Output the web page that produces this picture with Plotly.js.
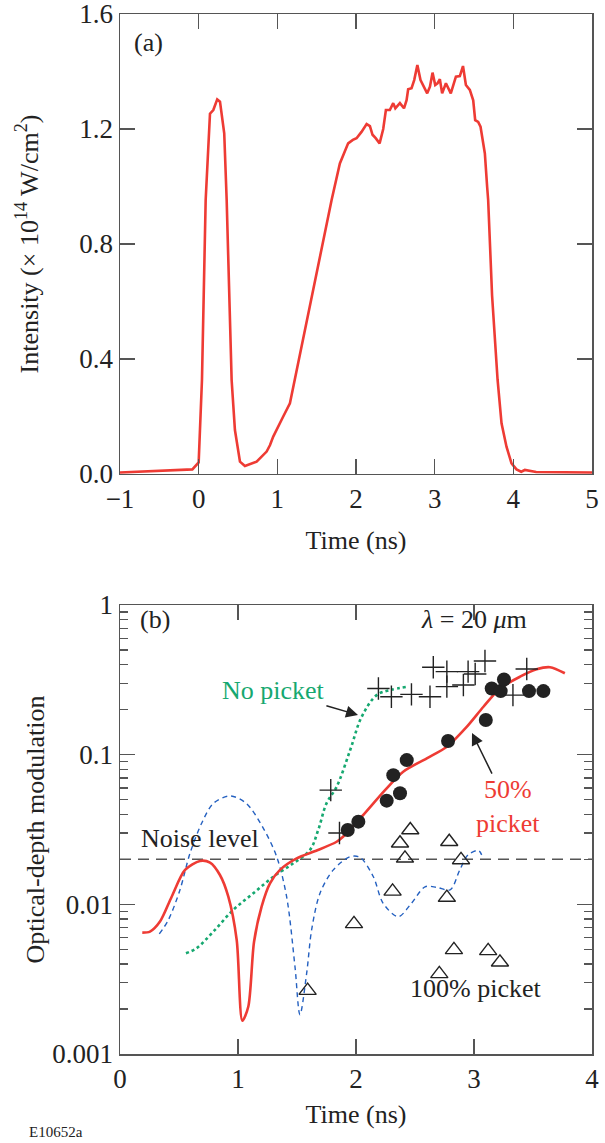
<!DOCTYPE html>
<html>
<head>
<meta charset="utf-8">
<script src="https://cdn.plot.ly/plotly-3.0.1.min.js"></script>
<style>
  html, body { margin: 0; padding: 0; background: #fff; }
  #chart { width: 605px; height: 1143px; }
</style>
</head>
<body>
<div id="chart"></div>
<script>
// ---------- Panel (a): laser pulse intensity ----------
var timeA = [-1, -0.5, -0.08, 0, 0.042, 0.089, 0.144, 0.186, 0.236, 0.271, 0.325, 0.356, 0.419, 0.461, 0.525, 0.588, 0.737, 0.864, 0.906, 0.948, 0.97, 1.075, 1.16, 1.22, 1.45, 1.69, 1.795, 1.90, 1.96, 2.007, 2.07, 2.135, 2.177, 2.21, 2.25, 2.30, 2.346, 2.38, 2.43, 2.473, 2.50, 2.558, 2.61, 2.643, 2.663, 2.706, 2.74, 2.78, 2.82, 2.863, 2.905, 2.94, 2.973, 3.007, 3.036, 3.066, 3.095, 3.143, 3.175, 3.205, 3.27, 3.32, 3.36, 3.397, 3.447, 3.49, 3.515, 3.553, 3.583, 3.638, 3.667, 3.68, 3.73, 3.80, 3.85, 3.913, 3.977, 4.04, 4.10, 4.146, 4.29, 5];
var intensityA = [0.005, 0.010, 0.016, 0.04, 0.327, 0.953, 1.253, 1.266, 1.303, 1.295, 1.185, 0.953, 0.327, 0.153, 0.043, 0.028, 0.043, 0.078, 0.10, 0.13, 0.143, 0.2, 0.246, 0.327, 0.64, 0.953, 1.08, 1.15, 1.162, 1.168, 1.19, 1.217, 1.21, 1.18, 1.168, 1.15, 1.20, 1.266, 1.266, 1.29, 1.272, 1.29, 1.272, 1.30, 1.338, 1.342, 1.37, 1.423, 1.37, 1.347, 1.324, 1.347, 1.396, 1.353, 1.359, 1.373, 1.324, 1.359, 1.342, 1.324, 1.382, 1.384, 1.419, 1.353, 1.336, 1.30, 1.231, 1.225, 1.208, 1.115, 0.999, 0.953, 0.62, 0.327, 0.176, 0.095, 0.037, 0.016, 0.008, 0.014, 0.007, 0.005];
var yTicksA = [0, 0.4, 0.8, 1.2, 1.6];
var xTicksA = [-1, 0, 1, 2, 3, 4, 5];

// ---------- Panel (b): optical-depth modulation ----------
// 50% picket (red solid curve)
var time50 = [0.189, 0.254, 0.339, 0.438, 0.551, 0.678, 0.763, 0.847, 0.918, 0.989, 1.037, 1.087, 1.136, 1.20, 1.271, 1.356, 1.497, 1.667, 1.836, 1.89, 2.048, 2.246, 2.40, 2.60, 2.77, 2.94, 3.08, 3.22, 3.39, 3.53, 3.644, 3.77];
var mod50 = [0.00647, 0.00657, 0.00767, 0.01125, 0.01698, 0.0195, 0.019, 0.0157, 0.01125, 0.00578, 0.00167, 0.00207, 0.00563, 0.00966, 0.01383, 0.017, 0.0203, 0.0229, 0.0262, 0.0283, 0.0385, 0.058, 0.077, 0.0946, 0.113, 0.154, 0.209, 0.277, 0.332, 0.372, 0.384, 0.35];
// No picket (green dotted curve)
var timeNo = [0.559, 0.65, 0.791, 0.96, 1.13, 1.30, 1.469, 1.61, 1.68, 1.75, 1.836, 1.95, 2.048, 2.175, 2.288, 2.443];
var modNo = [0.00471, 0.0051, 0.00657, 0.00918, 0.01186, 0.0153, 0.0188, 0.0231, 0.0314, 0.0473, 0.061, 0.107, 0.179, 0.25, 0.27, 0.285];
// 100% picket (blue dashed curve)
var time100 = [0.333, 0.41, 0.508, 0.593, 0.692, 0.791, 0.932, 1.07, 1.215, 1.328, 1.412, 1.483, 1.525, 1.582, 1.624, 1.695, 1.808, 1.95, 2.034, 2.147, 2.23, 2.358, 2.47, 2.585, 2.684, 2.797, 2.88, 2.95, 3.037, 3.065];
var mod100 = [0.00634, 0.00787, 0.01248, 0.0219, 0.0348, 0.0473, 0.053, 0.0473, 0.0322, 0.0208, 0.01125, 0.00383, 0.00183, 0.00347, 0.00675, 0.01186, 0.017, 0.0208, 0.0206, 0.0153, 0.01016, 0.00828, 0.01016, 0.0131, 0.013, 0.01248, 0.017, 0.0214, 0.0229, 0.0214];
// Measured points
var plusTime = [1.786, 1.86, 2.19, 2.30, 2.47, 2.627, 2.655, 2.77, 2.77, 2.91, 2.95, 3.01, 3.093, 3.33, 3.447];
var plusMod = [0.058, 0.030, 0.277, 0.244, 0.253, 0.244, 0.384, 0.359, 0.285, 0.292, 0.359, 0.346, 0.423, 0.25, 0.374];
var dotTime = [1.93, 2.02, 2.26, 2.316, 2.373, 2.43, 2.78, 3.10, 3.15, 3.226, 3.254, 3.466, 3.588];
var dotMod = [0.0314, 0.0357, 0.0493, 0.073, 0.0552, 0.092, 0.1235, 0.1706, 0.277, 0.266, 0.318, 0.266, 0.266];
var triTime = [1.59, 1.983, 2.31, 2.373, 2.415, 2.46, 2.706, 2.77, 2.79, 2.83, 2.89, 3.12, 3.22];
var triMod = [0.00265, 0.0074, 0.0122, 0.0256, 0.0203, 0.0314, 0.00343, 0.0111, 0.0262, 0.00496, 0.0198, 0.00489, 0.0041];
var noiseTime = [0, 4];
var noiseLevel = [0.02, 0.02];
var xTicksB = [0, 1, 2, 3, 4];
var yTicksB = [0.001, 0.01, 0.1, 1];
var yTickTextB = ['0.001', '0.01', '0.1', '1'];

var RED = '#ee3b34', GREEN = '#16a870', BLUE = '#2460c0', INK = '#222222', AXIS = '#555555';
var FONT = 'Liberation Serif';

var traces = [
  {x: timeA, y: intensityA, xaxis: 'x', yaxis: 'y', mode: 'lines', line: {color: RED, width: 2.6}},
  {x: noiseTime, y: noiseLevel, xaxis: 'x2', yaxis: 'y2', mode: 'lines', line: {color: AXIS, width: 1.5, dash: '11px,7px'}},
  {x: time100, y: mod100, xaxis: 'x2', yaxis: 'y2', mode: 'lines', line: {color: BLUE, width: 1.4, dash: '5px,4px', shape: 'spline', smoothing: 0.9}},
  {x: timeNo, y: modNo, xaxis: 'x2', yaxis: 'y2', mode: 'lines', line: {color: GREEN, width: 2.6, dash: 'dot', shape: 'spline', smoothing: 1}},
  {x: time50, y: mod50, xaxis: 'x2', yaxis: 'y2', mode: 'lines', line: {color: RED, width: 2.6, shape: 'spline', smoothing: 0.8}},
  {x: plusTime, y: plusMod, xaxis: 'x2', yaxis: 'y2', mode: 'markers', marker: {symbol: 'cross-thin', size: 16, line: {color: INK, width: 1.4}}},
  {x: dotTime, y: dotMod, xaxis: 'x2', yaxis: 'y2', mode: 'markers', marker: {symbol: 'circle', size: 14, color: INK}},
  {x: triTime, y: triMod, xaxis: 'x2', yaxis: 'y2', mode: 'markers', marker: {symbol: 'triangle-up-open', size: 15, color: INK, line: {color: INK, width: 1.4}}}
];

var tickFont = {family: FONT, size: 27, color: INK};
var titleFont = {family: FONT, size: 26, color: INK};
var annFont = {family: FONT, size: 26, color: INK};
var common = {showline: true, linecolor: AXIS, linewidth: 1.5, mirror: 'ticks', ticks: 'inside', ticklen: 15, tickwidth: 1.5, tickcolor: AXIS, showgrid: false, zeroline: false, tickfont: tickFont, ticklabeloverflow: 'allow'};

var layout = {
  width: 605, height: 1143,
  margin: {l: 120, r: 13, t: 14, b: 89},
  paper_bgcolor: '#ffffff', plot_bgcolor: '#ffffff',
  showlegend: false,
  font: {family: FONT, color: INK},
  xaxis: Object.assign({}, common, {domain: [0, 1], anchor: 'y', range: [-1, 5], tickvals: xTicksA,
    title: {text: 'Time (ns)', font: titleFont, standoff: 18}}),
  yaxis: Object.assign({}, common, {domain: [0.5577, 1], anchor: 'x', range: [0, 1.6], tickvals: yTicksA, tickformat: '.1f',
    title: {text: 'Intensity (× 10<sup>14</sup> W/cm<sup>2</sup>)', font: titleFont, standoff: 33}}),
  xaxis2: Object.assign({}, common, {domain: [0, 1], anchor: 'y2', range: [0, 4], tickvals: xTicksB,
    title: {text: 'Time (ns)', font: titleFont, standoff: 12}}),
  yaxis2: Object.assign({}, common, {domain: [0, 0.4317], anchor: 'x2', type: 'log', range: [-3, 0], tickvals: yTicksB, ticktext: yTickTextB,
    minor: {ticks: 'inside', ticklen: 8, tickwidth: 1.3, tickcolor: AXIS, dtick: 'D1', showgrid: false},
    title: {text: 'Optical-depth modulation', font: titleFont, standoff: 0}}),
  annotations: [
    {xref: 'x', yref: 'y', x: -0.85, y: 1.5, text: '(a)', showarrow: false, xanchor: 'left', yanchor: 'middle', font: annFont},
    {xref: 'x2', yref: 'y2', x: 0.15, y: Math.log10(0.8), text: '(b)', showarrow: false, xanchor: 'left', yanchor: 'middle', font: annFont},
    {xref: 'x2', yref: 'y2', x: 3.00, y: Math.log10(0.8), text: '<i>λ</i> = 20 <i>μ</i>m', showarrow: false, xanchor: 'center', yanchor: 'middle', font: annFont},
    {xref: 'x2', yref: 'y2', x: 2.017, y: -0.735, ax: 1.30, ay: Math.log10(0.27), axref: 'x2', ayref: 'y2', text: 'No picket', showarrow: true, arrowhead: 2, arrowsize: 1.6, arrowwidth: 1.5, arrowcolor: INK, font: {family: FONT, size: 26, color: GREEN}},
    {xref: 'x2', yref: 'y2', x: 2.983, y: -0.855, ax: 3.29, ay: Math.log10(0.045), axref: 'x2', ayref: 'y2', text: '50%<br>picket', showarrow: true, arrowhead: 2, arrowsize: 1.6, arrowwidth: 1.5, arrowcolor: INK, font: {family: FONT, size: 26, color: RED}},
    {xref: 'x2', yref: 'y2', x: 0.68, y: Math.log10(0.0275), text: 'Noise level', showarrow: false, xanchor: 'center', yanchor: 'middle', font: annFont},
    {xref: 'x2', yref: 'y2', x: 3.01, y: Math.log10(0.00275), text: '100% picket', showarrow: false, xanchor: 'center', yanchor: 'middle', font: annFont},
    {xref: 'paper', yref: 'paper', x: -0.198, y: -0.075, text: 'E10652a', showarrow: false, xanchor: 'left', yanchor: 'middle', font: {family: FONT, size: 15, color: INK}}
  ]
};

Plotly.newPlot('chart', traces, layout, {staticPlot: true, displayModeBar: false});
</script>
</body>
</html>
